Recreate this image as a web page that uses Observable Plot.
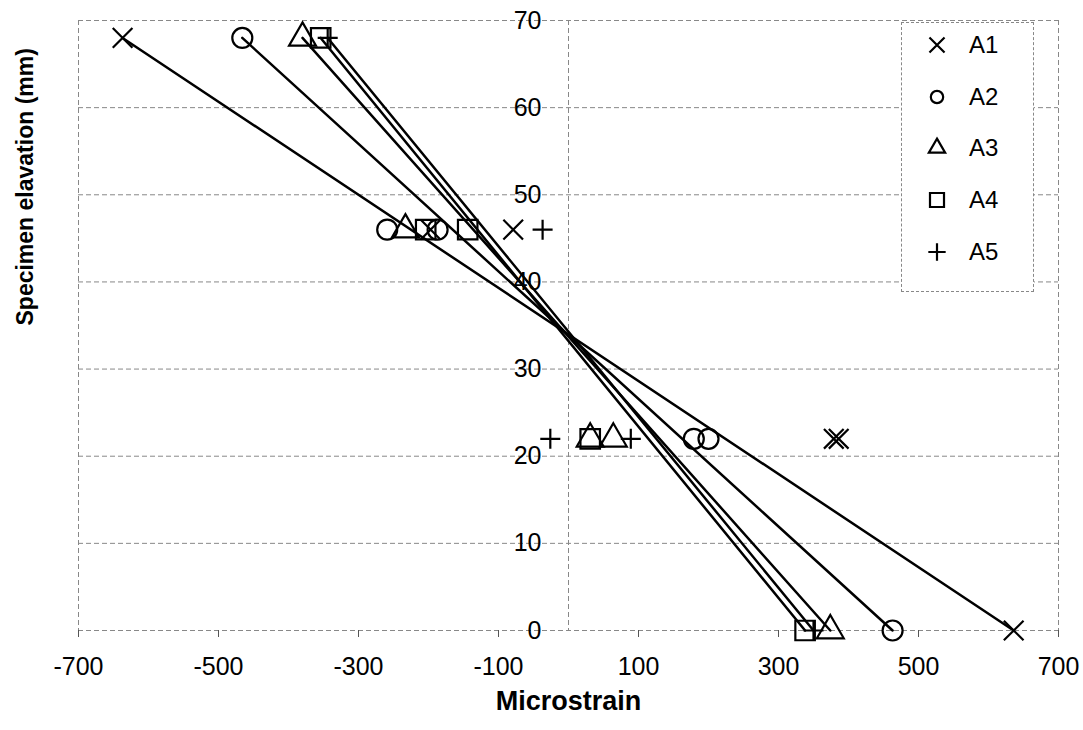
<!DOCTYPE html>
<html>
<head>
<meta charset="utf-8">
<script src="https://cdn.jsdelivr.net/npm/d3@7"></script>
<script src="https://cdn.jsdelivr.net/npm/@observablehq/plot@0.6"></script>
<style>
  html, body { margin: 0; padding: 0; background: #fff; }
  body { font-family: "Liberation Sans", Arial, sans-serif; }
  #wrap { position: relative; width: 1083px; height: 730px; }
  #legend { position: absolute; left: 901px; top: 22px; width: 133px; height: 270px;
            border: 1px dashed #888; background: #fff; box-sizing: border-box; }
  #legend .row { position: absolute; left: 0; height: 30px; width: 133px; }
  #legend svg { position: absolute; left: 20px; top: 0; }
  #legend span { position: absolute; left: 67px; top: 1px; font-size: 24px; color: #000; line-height: 28px; }
</style>
</head>
<body>
<div id="wrap"><div id="legend"></div></div>
<script>
// ---- data ----
const seriesNames = ["A1", "A2", "A3", "A4", "A5"];
const symbolNames = ["times", "circle", "triangle", "square", "plus"];
const topElevation = 68;
const upperGaugeElevation = 46;
const lowerGaugeElevation = 22;
const bottomElevation = 0;
const topStrain = [-637, -466, -380, -354, -344];
const bottomStrain = [636, 463, 374, 338, 350];
const upperGaugeStrain = [[-197, -79], [-259, -187], [-233], [-204, -144], [-37]];
const lowerGaugeStrain = [[379, 386], [179, 200], [31, 64], [31], [-26, 89]];
const xTicks = [-700, -500, -300, -100, 100, 300, 500, 700];
const yTicks = [0, 10, 20, 30, 40, 50, 60, 70];
const frameLinesX = [-700, 0, 700];
const xTitle = "Microstrain";
const yTitle = "Specimen elavation (mm)";

// ---- build tables ----
const lineRows = [];
const pointRows = [];
seriesNames.forEach((s, i) => {
  lineRows.push({s, x: topStrain[i], y: topElevation});
  lineRows.push({s, x: bottomStrain[i], y: bottomElevation});
  pointRows.push({s, x: topStrain[i], y: topElevation});
  pointRows.push({s, x: bottomStrain[i], y: bottomElevation});
  upperGaugeStrain[i].forEach(x => pointRows.push({s, x, y: upperGaugeElevation}));
  lowerGaugeStrain[i].forEach(x => pointRows.push({s, x, y: lowerGaugeElevation}));
});

const markerR = {times: 9, circle: 10, triangle: 10, square: 11, plus: 6.5};
const gridStyle = {stroke: "#888", strokeWidth: 1, strokeDasharray: "5,3"};

const dotMarks = seriesNames.map((s, i) =>
  Plot.dot(pointRows.filter(d => d.s === s), {
    x: "x", y: "y", symbol: symbolNames[i], r: markerR[symbolNames[i]],
    stroke: "#000", strokeWidth: 2.2, fill: "none"
  })
);

const chart = Plot.plot({
  width: 1083,
  height: 730,
  marginLeft: 78,
  marginRight: 25,
  marginTop: 20,
  marginBottom: 100,
  style: {fontFamily: "'Liberation Sans', Arial, sans-serif", background: "#fff", color: "#000"},
  x: {domain: [-700, 700], axis: null},
  y: {domain: [0, 70], axis: null},
  marks: [
    Plot.ruleY(yTicks, gridStyle),
    Plot.ruleX(frameLinesX, gridStyle),
    Plot.axisX({ticks: xTicks, tickSize: 7, tickPadding: 20, fontSize: 25, label: null, stroke: "#555", tickFormat: d => String(d)}),
    Plot.text(yTicks, {x: () => 0, y: d => d, text: d => String(d), textAnchor: "end", dx: -27, fontSize: 25, fill: "#000"}),
    Plot.line(lineRows, {x: "x", y: "y", z: "s", stroke: "#000", strokeWidth: 2.5}),
    ...dotMarks,
    Plot.text([xTitle], {frameAnchor: "bottom", dy: 79, fontWeight: "bold", fontSize: 27, fill: "#000"}),
    Plot.text([yTitle], {frameAnchor: "left", dx: -53, rotate: -90, fontWeight: "bold", fontSize: 23, fill: "#000"})
  ]
});
document.getElementById("wrap").insertBefore(chart, document.getElementById("legend"));

// ---- legend ----
const d3Symbols = {times: d3.symbolTimes, circle: d3.symbolCircle, triangle: d3.symbolTriangle2, square: d3.symbolSquare2, plus: d3.symbolPlus};
const legendSize = {times: 150, circle: 120, triangle: 190, square: 250, plus: 100};
const legend = document.getElementById("legend");
seriesNames.forEach((s, i) => {
  const row = document.createElement("div");
  row.className = "row";
  row.style.top = (7 + i * 51.7) + "px";
  const sym = symbolNames[i];
  const path = d3.symbol(d3Symbols[sym], legendSize[sym])();
  row.innerHTML = `<svg width="30" height="30" viewBox="-15 -15 30 30"><path d="${path}" fill="none" stroke="#000" stroke-width="2.2"/></svg><span>${s}</span>`;
  legend.appendChild(row);
});
</script>
</body>
</html>
